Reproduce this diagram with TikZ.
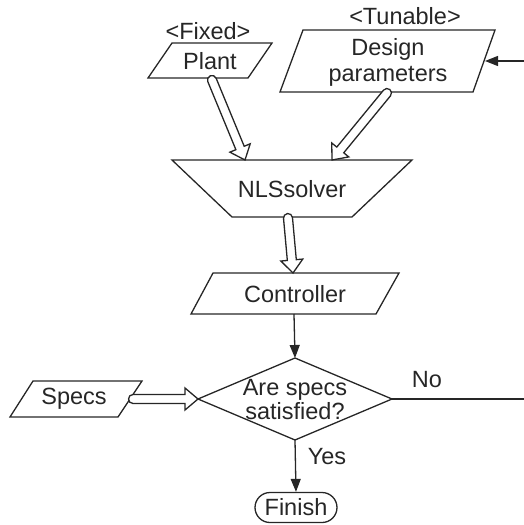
\documentclass[tikz,border=0pt]{standalone}
\usepackage{fontspec}
\setmainfont{Liberation Sans}
\usetikzlibrary{arrows.meta,calc}
\tikzset{
  shp/.style={draw=black!85, line width=1.3pt, line join=miter},
  lbl/.style={font=\fontsize{23.5}{26}\selectfont, text=black!85, align=center, inner sep=0pt},
  flow/.style={draw=black!85, line width=1.3pt, -{Triangle[length=13pt,width=10pt]}},
  hollowarr/.style={draw=black!85, fill=white, line width=1.3pt, line join=miter},
}
\newcommand{\hollowarrow}[2]{%
  \draw[hollowarr] let \p1=($(#2)-(#1)$), \n1={atan2(\y1,\x1)}, \n2={veclen(\x1,\y1)} in
   [shift={(#1)}, rotate=\n1]
   (0pt,4.5pt) arc[start angle=90,end angle=270,radius=4.5pt]
   -- ({\n2*1pt-13pt},-4.5pt) -- ({\n2*1pt-13pt},-11pt) -- ({\n2*1pt},0pt)
   -- ({\n2*1pt-13pt},11pt) -- ({\n2*1pt-13pt},4.5pt) -- cycle;}
\begin{document}
\begin{tikzpicture}[x=1pt,y=-1pt]
\useasboundingbox (0,0) rectangle (524,525);
% shapes
\draw[shp] (172,43) -- (272,43) -- (248,78) -- (148,78) -- cycle;
\draw[shp] (303,30) -- (495,30) -- (473,92) -- (280,92) -- cycle;
\draw[shp] (172,160) -- (412,160) -- (352,217) -- (232,217) -- cycle;
\draw[shp] (213,273) -- (399,273) -- (376,314) -- (191,314) -- cycle;
\draw[shp] (295,358) -- (392,399) -- (295,440) -- (198,399) -- cycle;
\draw[shp] (33,381) -- (142,381) -- (118,417) -- (10,417) -- cycle;
% labels
\node[lbl] (fixed) at (208,31) {<Fixed>};
\node[lbl] (plant) at (210,61) {Plant};
\node[lbl] (tunable) at (405,16) {<Tunable>};
\node[lbl] (design) at (388,62) {Design\\parameters};
\node[lbl] (nls) at (292,189) {NLSsolver};
\node[lbl] (ctrl) at (295,294) {Controller};
\node[lbl, font=\fontsize{23.5}{24}\selectfont] (ask) at (295,400) {Are specs\\satisfied?};
\node[lbl] (specs) at (74,399) {Specs};
\node[lbl] (no) at (427,380) {No};
\node[lbl] (yes) at (327,457) {Yes};
\node[shp, lbl, draw=black!85, rounded corners=15pt, minimum width=82pt, minimum height=30pt] (finish) at (296,507.5) {Finish};
% connector end points
\coordinate (plantout) at (212,80);
\coordinate (nlsinA) at (245,160);
\coordinate (designout) at (387,93);
\coordinate (nlsinB) at (332,160);
\coordinate (nlsout) at (288,218);
\coordinate (ctrlin) at (293,273);
\coordinate (specsout) at (133,399);
\coordinate (askleft) at (198,399);
\coordinate (ctrlout) at (294,314);
\coordinate (asktop) at (295,358);
\coordinate (askright) at (392,399);
\coordinate (askbottom) at (295,440);
\coordinate (noend) at (524,399);
\coordinate (fbstart) at (524,61);
\coordinate (designin) at (485,61);
% connectors
\hollowarrow{plantout}{nlsinA}
\hollowarrow{designout}{nlsinB}
\hollowarrow{nlsout}{ctrlin}
\hollowarrow{specsout}{askleft}
\draw[flow] (ctrlout) -- (asktop);
\draw[flow] (askbottom) -- (finish.north);
\draw[flow] (fbstart) -- (designin);
\draw[shp] (askright) -- (noend);
\end{tikzpicture}
\end{document}
